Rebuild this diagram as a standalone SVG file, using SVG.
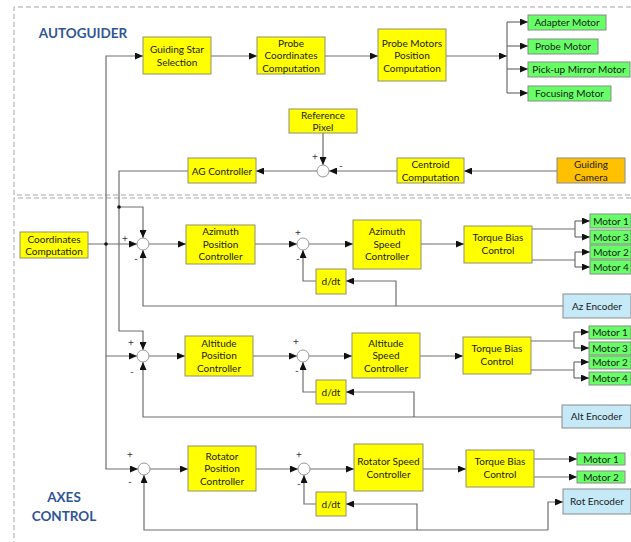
<svg xmlns="http://www.w3.org/2000/svg" width="631" height="542" viewBox="0 0 631 542">
  <style>
    .frame { fill: none; stroke: #a6a6a6; stroke-width: 1; stroke-dasharray: 5 3; }
    .title { font-family: Lato, "Liberation Sans", sans-serif; font-weight: bold; font-size: 13.5px; fill: #2f5597; text-anchor: middle; }
    .blk { fill: #ffff00; stroke: #8f8f6f; stroke-width: 1; }
    .mot { fill: #66ff66; stroke: #8a8a8a; stroke-width: 1; }
    .enc { fill: #c5e9f7; stroke: #8a8a8a; stroke-width: 1; }
    .cam { fill: #ffc000; stroke: #8a8a8a; stroke-width: 1; }
    .sum { fill: #ffffff; stroke: #999999; stroke-width: 1; }
    .lbl { font-family: Lato, "Liberation Sans", sans-serif; font-size: 10px; fill: #1a1a1a; text-anchor: middle; }
    .sign { font-family: "Liberation Sans", sans-serif; font-size: 10px; fill: #333333; text-anchor: middle; text-rendering: geometricPrecision; }
    .wire { fill: none; stroke: #6e6e6e; stroke-width: 1.2; }
    .arr { marker-end: url(#tip); }
    .dot { fill: #111111; }
  </style>
  <defs>
    <marker id="tip" markerUnits="userSpaceOnUse" markerWidth="8" markerHeight="7" refX="8" refY="3.5" orient="auto">
      <path d="M0,0 L8,3.5 L0,7 z" fill="#111111"/>
    </marker>
  </defs>

  <!-- section frames -->
  <g id="frames">
    <path class="frame" d="M631,7 H14 V195 H631"/>
    <path class="frame" d="M631,198 H14 V542"/>
    <text class="title" x="83" y="38">AUTOGUIDER</text>
    <text class="title" x="64" y="502">AXES</text>
    <text class="title" x="64" y="521">CONTROL</text>
  </g>

  <!-- connectors -->
  <g id="connectors">
    <!-- autoguider chain -->
    <path class="wire arr" d="M106,244 V56 H143"/>
    <path class="wire arr" d="M211,56 H257"/>
    <path class="wire arr" d="M325,56 H378"/>
    <path class="wire arr" d="M446,56 H507"/>
    <path class="wire" d="M507,22 V93"/>
    <path class="wire arr" d="M507,22 H528"/>
    <path class="wire arr" d="M507,46 H528"/>
    <path class="wire arr" d="M507,69 H528"/>
    <path class="wire arr" d="M507,93 H528"/>
    <path class="wire arr" d="M323,133 V165"/>
    <path class="wire arr" d="M557,171 H464"/>
    <path class="wire arr" d="M397,171 H329"/>
    <path class="wire arr" d="M317,171 H256"/>
    <path class="wire arr" d="M188,171 H119 V331 H143 V350"/>
    <path class="wire arr" d="M119,207 H143 V238"/>
    <circle class="dot" cx="119" cy="207" r="1.8"/>

    <!-- coordinates distribution -->
    <path class="wire arr" d="M88,244 H137"/>
    <path class="wire arr" d="M106,244 V356 H137"/>
    <path class="wire arr" d="M106,356 V469 H138"/>
    <circle class="dot" cx="106" cy="244" r="1.8"/>

    <!-- azimuth loop -->
    <path class="wire arr" d="M149,244 H186"/>
    <path class="wire arr" d="M255,244 H297"/>
    <path class="wire arr" d="M309,244 H353"/>
    <path class="wire arr" d="M421,244 H464"/>
    <path class="wire" d="M532,229 H575 M575,221 V237 M532,260 H575 M575,252 V267"/>
    <path class="wire arr" d="M575,221 H590"/>
    <path class="wire arr" d="M575,237 H590"/>
    <path class="wire arr" d="M575,252 H590"/>
    <path class="wire arr" d="M575,267 H590"/>
    <path class="wire arr" d="M316,281 H303 V250"/>
    <path class="wire arr" d="M563,306 H143 V250"/>
    <path class="wire arr" d="M396,306 V281 H346"/>

    <!-- altitude loop -->
    <path class="wire arr" d="M149,356 H185"/>
    <path class="wire arr" d="M253,356 H297"/>
    <path class="wire arr" d="M309,356 H352"/>
    <path class="wire arr" d="M420,356 H463"/>
    <path class="wire" d="M531,341 H574 M574,332 V348 M531,370 H574 M574,362 V378"/>
    <path class="wire arr" d="M574,332 H589"/>
    <path class="wire arr" d="M574,348 H589"/>
    <path class="wire arr" d="M574,362 H589"/>
    <path class="wire arr" d="M574,378 H589"/>
    <path class="wire arr" d="M316,392 H303 V362"/>
    <path class="wire arr" d="M562,417 H143 V362"/>
    <path class="wire arr" d="M414,417 V392 H346"/>

    <!-- rotator loop -->
    <path class="wire arr" d="M150,469 H188"/>
    <path class="wire arr" d="M256,469 H298"/>
    <path class="wire arr" d="M310,469 H354"/>
    <path class="wire arr" d="M423,469 H466"/>
    <path class="wire arr" d="M534,459 H577"/>
    <path class="wire arr" d="M534,477 H577"/>
    <path class="wire arr" d="M316,504 H304 V475"/>
    <path class="wire arr" d="M548,530 H144 V475"/>
    <path class="wire arr" d="M548,530 V502 H563"/>
    <path class="wire arr" d="M417,530 V504 H346"/>
  </g>

  <!-- autoguider blocks -->
  <g id="guiding-star-selection">
    <rect class="blk" x="143" y="37" width="68" height="37"/>
    <text class="lbl" x="177" y="53">Guiding Star</text>
    <text class="lbl" x="177" y="65.5">Selection</text>
  </g>
  <g id="probe-coordinates">
    <rect class="blk" x="257" y="37" width="68" height="37"/>
    <text class="lbl" x="291" y="46.5">Probe</text>
    <text class="lbl" x="291" y="59">Coordinates</text>
    <text class="lbl" x="291" y="71.5">Computation</text>
  </g>
  <g id="probe-motors-position">
    <rect class="blk" x="378" y="29" width="68" height="52"/>
    <text class="lbl" x="412" y="46.5">Probe Motors</text>
    <text class="lbl" x="412" y="59">Position</text>
    <text class="lbl" x="412" y="71.5">Computation</text>
  </g>
  <g id="adapter-motor">
    <rect class="mot" x="528" y="15" width="78" height="15"/>
    <text class="lbl" x="567" y="26">Adapter Motor</text>
  </g>
  <g id="probe-motor">
    <rect class="mot" x="528" y="39" width="70" height="15"/>
    <text class="lbl" x="563" y="50">Probe Motor</text>
  </g>
  <g id="pickup-mirror-motor">
    <rect class="mot" x="528" y="62" width="102" height="15"/>
    <text class="lbl" x="579" y="73">Pick-up Mirror Motor</text>
  </g>
  <g id="focusing-motor">
    <rect class="mot" x="528" y="86" width="83" height="15"/>
    <text class="lbl" x="569.5" y="97">Focusing Motor</text>
  </g>
  <g id="reference-pixel">
    <rect class="blk" x="289" y="109" width="68" height="24"/>
    <text class="lbl" x="323" y="118.5">Reference</text>
    <text class="lbl" x="323" y="131">Pixel</text>
  </g>
  <g id="ag-sum">
    <circle class="sum" cx="323" cy="171" r="6"/>
    <text class="sign" x="315" y="160">+</text>
    <text class="sign" x="341" y="169">-</text>
  </g>
  <g id="centroid-computation">
    <rect class="blk" x="397" y="158" width="67" height="25"/>
    <text class="lbl" x="430.5" y="168">Centroid</text>
    <text class="lbl" x="430.5" y="180.5">Computation</text>
  </g>
  <g id="guiding-camera">
    <rect class="cam" x="557" y="158" width="68" height="25"/>
    <text class="lbl" x="591" y="168">Guiding</text>
    <text class="lbl" x="591" y="180.5">Camera</text>
  </g>
  <g id="ag-controller">
    <rect class="blk" x="188" y="158" width="68" height="25"/>
    <text class="lbl" x="222" y="174.5">AG Controller</text>
  </g>

  <!-- common input -->
  <g id="coordinates-computation">
    <rect class="blk" x="20" y="232" width="68" height="26"/>
    <text class="lbl" x="54" y="242.5">Coordinates</text>
    <text class="lbl" x="54" y="255">Computation</text>
  </g>

  <!-- azimuth axis -->
  <g id="az-pos-sum">
    <circle class="sum" cx="143" cy="244" r="6"/>
    <text class="sign" x="125" y="242">+</text>
    <text class="sign" x="136" y="262">-</text>
  </g>
  <g id="az-position-controller">
    <rect class="blk" x="186" y="225" width="69" height="39"/>
    <text class="lbl" x="220.5" y="235">Azimuth</text>
    <text class="lbl" x="220.5" y="247.5">Position</text>
    <text class="lbl" x="220.5" y="260">Controller</text>
  </g>
  <g id="az-speed-sum">
    <circle class="sum" cx="303" cy="244" r="6"/>
    <text class="sign" x="298" y="236">+</text>
    <text class="sign" x="298" y="262">-</text>
  </g>
  <g id="az-speed-controller">
    <rect class="blk" x="353" y="220" width="68" height="49"/>
    <text class="lbl" x="387" y="235">Azimuth</text>
    <text class="lbl" x="387" y="247.5">Speed</text>
    <text class="lbl" x="387" y="260">Controller</text>
  </g>
  <g id="az-torque-bias">
    <rect class="blk" x="464" y="226" width="68" height="37"/>
    <text class="lbl" x="498" y="241">Torque Bias</text>
    <text class="lbl" x="498" y="253.5">Control</text>
  </g>
  <g id="az-motor-1">
    <rect class="mot" x="590" y="214" width="41" height="14"/>
    <text class="lbl" x="611" y="224.5">Motor 1</text>
  </g>
  <g id="az-motor-3">
    <rect class="mot" x="590" y="230" width="41" height="14"/>
    <text class="lbl" x="611" y="240.5">Motor 3</text>
  </g>
  <g id="az-motor-2">
    <rect class="mot" x="590" y="245" width="41" height="14"/>
    <text class="lbl" x="611" y="255.5">Motor 2</text>
  </g>
  <g id="az-motor-4">
    <rect class="mot" x="590" y="260" width="41" height="14"/>
    <text class="lbl" x="611" y="270.5">Motor 4</text>
  </g>
  <g id="az-derivative">
    <rect class="blk" x="316" y="269" width="30" height="25"/>
    <text class="lbl" x="331" y="285">d/dt</text>
  </g>
  <g id="az-encoder">
    <rect class="enc" x="563" y="294" width="68" height="24"/>
    <text class="lbl" x="597" y="309.5">Az Encoder</text>
  </g>

  <!-- altitude axis -->
  <g id="alt-pos-sum">
    <circle class="sum" cx="143" cy="356" r="6"/>
    <text class="sign" x="131" y="346">+</text>
    <text class="sign" x="132" y="375">-</text>
  </g>
  <g id="alt-position-controller">
    <rect class="blk" x="185" y="336" width="68" height="40"/>
    <text class="lbl" x="219" y="346.5">Altitude</text>
    <text class="lbl" x="219" y="359">Position</text>
    <text class="lbl" x="219" y="371.5">Controller</text>
  </g>
  <g id="alt-speed-sum">
    <circle class="sum" cx="303" cy="356" r="6"/>
    <text class="sign" x="296" y="345">+</text>
    <text class="sign" x="297" y="374">-</text>
  </g>
  <g id="alt-speed-controller">
    <rect class="blk" x="352" y="333" width="68" height="45"/>
    <text class="lbl" x="386" y="346.5">Altitude</text>
    <text class="lbl" x="386" y="359">Speed</text>
    <text class="lbl" x="386" y="371.5">Controller</text>
  </g>
  <g id="alt-torque-bias">
    <rect class="blk" x="463" y="337" width="68" height="37"/>
    <text class="lbl" x="497" y="352">Torque Bias</text>
    <text class="lbl" x="497" y="364.5">Control</text>
  </g>
  <g id="alt-motor-1">
    <rect class="mot" x="589" y="326" width="42" height="13"/>
    <text class="lbl" x="610" y="336">Motor 1</text>
  </g>
  <g id="alt-motor-3">
    <rect class="mot" x="589" y="342" width="42" height="13"/>
    <text class="lbl" x="610" y="352">Motor 3</text>
  </g>
  <g id="alt-motor-2">
    <rect class="mot" x="589" y="356" width="42" height="13"/>
    <text class="lbl" x="610" y="366">Motor 2</text>
  </g>
  <g id="alt-motor-4">
    <rect class="mot" x="589" y="372" width="42" height="13"/>
    <text class="lbl" x="610" y="382">Motor 4</text>
  </g>
  <g id="alt-derivative">
    <rect class="blk" x="316" y="380" width="30" height="24"/>
    <text class="lbl" x="331" y="395.5">d/dt</text>
  </g>
  <g id="alt-encoder">
    <rect class="enc" x="562" y="405" width="69" height="23"/>
    <text class="lbl" x="596.5" y="420">Alt Encoder</text>
  </g>

  <!-- rotator axis -->
  <g id="rot-pos-sum">
    <circle class="sum" cx="144" cy="469" r="6"/>
    <text class="sign" x="130" y="458">+</text>
    <text class="sign" x="130" y="485">-</text>
  </g>
  <g id="rot-position-controller">
    <rect class="blk" x="188" y="446" width="68" height="45"/>
    <text class="lbl" x="222" y="459.5">Rotator</text>
    <text class="lbl" x="222" y="472">Position</text>
    <text class="lbl" x="222" y="484.5">Controller</text>
  </g>
  <g id="rot-speed-sum">
    <circle class="sum" cx="304" cy="469" r="6"/>
    <text class="sign" x="299" y="458">+</text>
    <text class="sign" x="299" y="487">-</text>
  </g>
  <g id="rot-speed-controller">
    <rect class="blk" x="354" y="444" width="69" height="47"/>
    <text class="lbl" x="388.5" y="465">Rotator Speed</text>
    <text class="lbl" x="388.5" y="477.5">Controller</text>
  </g>
  <g id="rot-torque-bias">
    <rect class="blk" x="466" y="450" width="68" height="37"/>
    <text class="lbl" x="500" y="465">Torque Bias</text>
    <text class="lbl" x="500" y="477.5">Control</text>
  </g>
  <g id="rot-motor-1">
    <rect class="mot" x="577" y="453" width="48" height="12"/>
    <text class="lbl" x="601" y="462.5">Motor 1</text>
  </g>
  <g id="rot-motor-2">
    <rect class="mot" x="577" y="471" width="48" height="12"/>
    <text class="lbl" x="601" y="480.5">Motor 2</text>
  </g>
  <g id="rot-derivative">
    <rect class="blk" x="316" y="492" width="30" height="24"/>
    <text class="lbl" x="331" y="507.5">d/dt</text>
  </g>
  <g id="rot-encoder">
    <rect class="enc" x="563" y="489" width="68" height="25"/>
    <text class="lbl" x="597" y="505">Rot Encoder</text>
  </g>
</svg>
